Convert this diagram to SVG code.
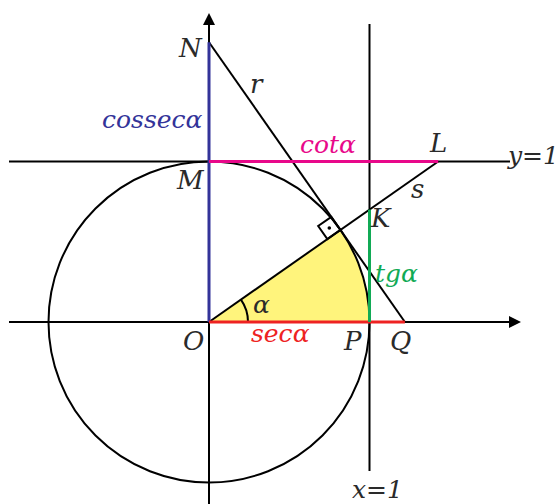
<svg xmlns="http://www.w3.org/2000/svg" width="560" height="504" viewBox="0 0 560 504">
<defs>
<marker id="arr" viewBox="0 0 12 12" refX="1" refY="6" markerWidth="12" markerHeight="12" markerUnits="userSpaceOnUse" orient="auto">
<path d="M0,0 L12,6 L0,12 z" fill="#000"/>
</marker>
<style>
.ln{stroke:#000;stroke-width:2;fill:none}
.lb{font-family:"DejaVu Serif","Liberation Serif",serif;font-style:italic;font-size:25px;fill:#2a2a2a}
.pt{font-size:26px}
.blue{stroke:#333399;stroke-width:3}
.mag{stroke:#e8088a;stroke-width:3}
.red{stroke:#ee2222;stroke-width:3}
.grn{stroke:#11aa55;stroke-width:3}
</style>
</defs>
<rect width="560" height="504" fill="#fff"/>
<g id="sector">
<path d="M209,322 L369.5,322 A160.5,160.5 0 0 0 340.47,229.94 Z" fill="#fff47c"/>
</g>
<g id="connectors">
<line class="ln" x1="9" y1="322" x2="510" y2="322" marker-end="url(#arr)"/>
<line class="ln" x1="209" y1="504" x2="209" y2="24" marker-end="url(#arr)"/>
<line class="ln" x1="9" y1="161.5" x2="510" y2="161.5"/>
<line class="ln" x1="369.5" y1="24" x2="369.5" y2="471"/>
<circle class="ln" cx="209" cy="322" r="160.5"/>
<line class="ln" x1="209" y1="322" x2="438.2" y2="161.5"/>
<line class="ln" x1="209" y1="42.2" x2="404.9" y2="322"/>
<path class="ln" d="M248,322 A39,39 0 0 0 240.95,299.63"/>
<path class="ln" d="M340.47,229.94 L327.36,239.12 L318.18,226.01 L331.29,216.83 Z"/>
<circle cx="329.3" cy="228" r="1.8" fill="#000"/>
<line class="blue" x1="209" y1="322" x2="209" y2="42.2"/>
<line class="mag" x1="209" y1="161.5" x2="438.2" y2="161.5"/>
<line class="red" x1="209" y1="322" x2="404.9" y2="322"/>
<line class="grn" x1="369.5" y1="322" x2="369.5" y2="209.6"/>
</g>
<g id="labels">
<text class="lb pt" x="179" y="57">N</text>
<text class="lb pt" x="250" y="93">r</text>
<text class="lb" x="102" y="128" style="fill:#333399">cossecα</text>
<text class="lb" x="300" y="153" style="fill:#e8088a">cotα</text>
<text class="lb pt" x="430" y="152">L</text>
<text class="lb" x="508" y="164">y=1</text>
<text class="lb pt" x="177" y="189">M</text>
<text class="lb pt" x="411" y="198">s</text>
<text class="lb pt" x="371" y="227">K</text>
<text class="lb" x="375" y="282" style="fill:#11aa55">tgα</text>
<text class="lb" x="253" y="313">α</text>
<text class="lb pt" x="183" y="350">O</text>
<text class="lb" x="251" y="342" style="fill:#ee2222">secα</text>
<text class="lb pt" x="344" y="350">P</text>
<text class="lb pt" x="390" y="350">Q</text>
<text class="lb" x="352" y="498">x=1</text>
</g>
</svg>
